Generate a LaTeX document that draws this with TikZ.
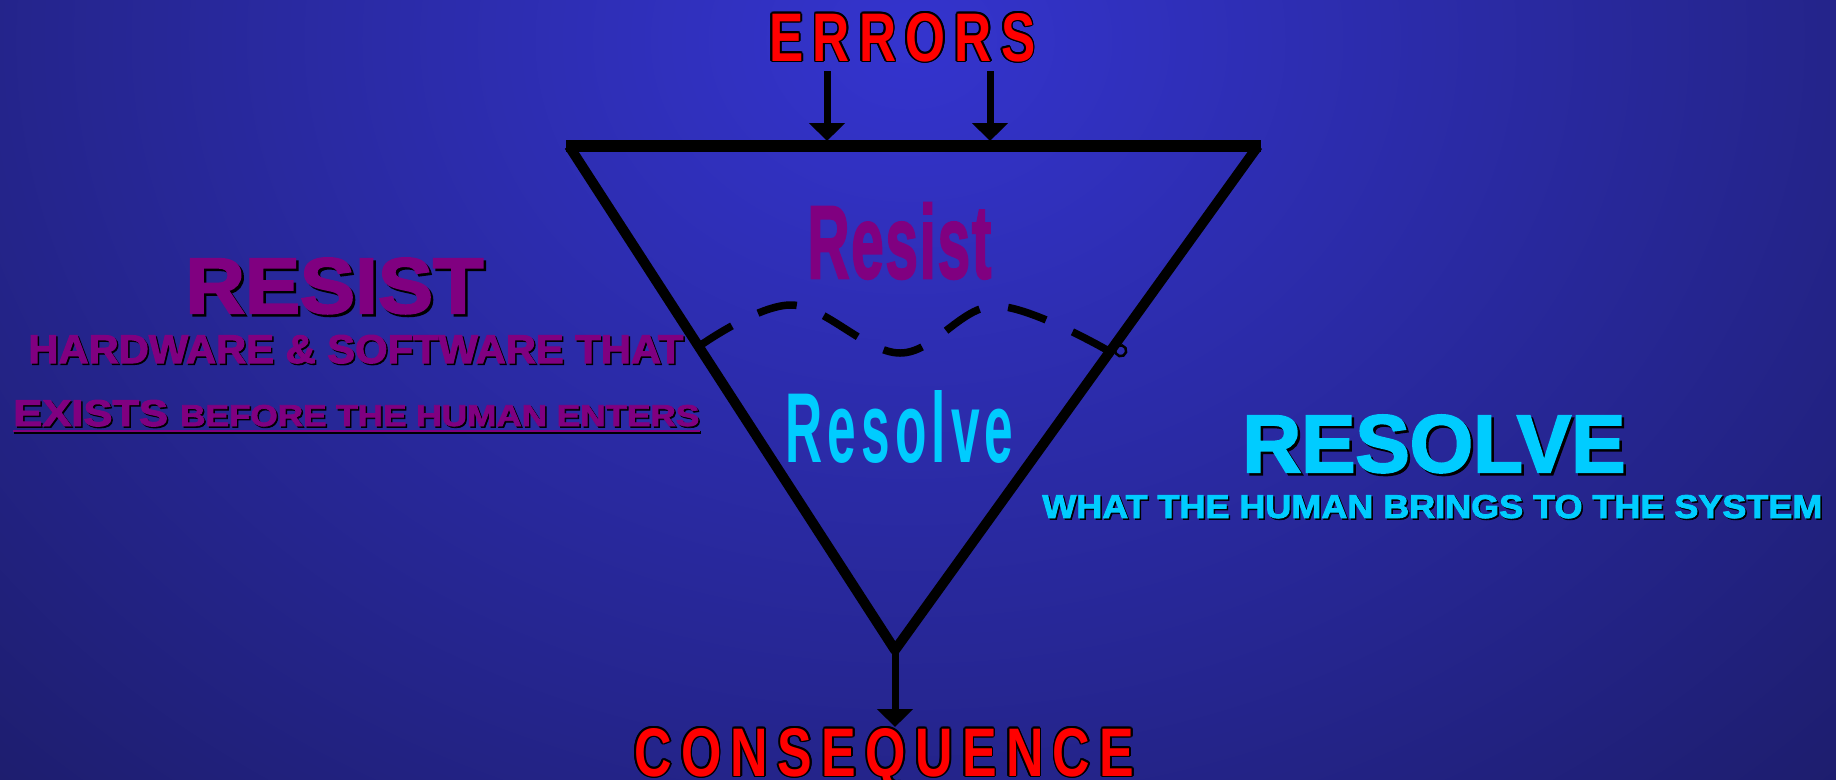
\documentclass[tikz,border=0pt]{standalone}
\usepackage{fontspec}
\setmainfont{Liberation Sans}
\newfontfamily\heavyfont{Liberation Sans}[BoldFeatures={FakeBold=2.5}]
\usetikzlibrary{arrows.meta}

\definecolor{bgdark}{RGB}{26,26,96}
\definecolor{bglight}{RGB}{52,52,206}
\definecolor{resistcol}{RGB}{128,0,128}
\definecolor{resolvecol}{RGB}{0,204,255}
\definecolor{errcol}{RGB}{255,0,0}

\newlength{\px}
\setlength{\px}{0.02cm}
\newcommand{\gap}{\kern0.18em}

% name, colour, shadow offset, position, text
\newcommand{\shadowed}[5]{%
  \node[word, text=black] at ([shift={(#3,#3)}]#4) {#5};
  \node[word, text=#2] (#1) at (#4) {#5};}

% name, position, text (red with a black rim)
\newcommand{\rimmed}[3]{%
  \foreach \a in {0,30,...,330}
    \node[word, text=black] at ([shift={(\a:1.8)}]#2) {#3};
  \node[word, text=errcol] (#1) at (#2) {#3};}

\tikzset{
  word/.style={inner sep=0pt, anchor=base west},
  side/.style={line width=0.2cm, line join=round},
  flow/.style={line width=0.14cm, -{Triangle[width=0.7cm,length=0.36cm]}},
  wave/.style={line width=0.15cm, dash pattern=on 0.8cm off 0.58cm},
}

\begin{document}
\begin{tikzpicture}[x=0.02cm, y=-0.02cm]
    \useasboundingbox (0,0) rectangle (1836,779);
    \fill[bgdark] (0,0) rectangle (1836,779);
    \begin{scope}
        \clip (0,0) rectangle (1836,779);
        \shade[inner color=bglight, outer color=bgdark] (910,40) ellipse [x radius=1500, y radius=1200];
    \end{scope}

    % triangle
    \coordinate (tl) at (569,146);
    \coordinate (tr) at (1258,146);
    \coordinate (apex) at (895,650);
    \draw[side] (tl) -- (apex) -- (tr);
    \draw[line width=0.24cm] ([xshift=-0.06cm]tl) -- ([xshift=0.06cm]tr);

    % errors in
    \rimmed{errors}{769,61}{\resizebox{266\px}{48\px}{\bfseries E\gap R\gap R\gap O\gap R\gap S}}
    \coordinate (in1) at (827,71);
    \coordinate (at1) at (827,141);
    \coordinate (in2) at (990,71);
    \coordinate (at2) at (990,141);
    \draw[flow] (in1) -- (at1);
    \draw[flow] (in2) -- (at2);

    % consequence out
    \coordinate (out) at (895,727);
    \draw[flow] (apex) -- (out);
    \rimmed{consequence}{634,776}{\resizebox{500\px}{48\px}{\bfseries C\gap O\gap N\gap S\gap E\gap Q\gap U\gap E\gap N\gap C\gap E}}

    % border between the two
    \coordinate (wl) at (698,347);
    \coordinate (wr) at (1107,350);
    \draw[wave] plot[smooth, tension=0.6] coordinates {(wl) (792,305) (900,353) (995,306) (wr)};
    \draw[line width=0.05cm] (1118,346) arc[start angle=120, end angle=-200, radius=0.11cm];

    \node[word, text=resistcol] (resistin) at (807,278) {\resizebox{184\px}{75\px}{\heavyfont\bfseries R\kern.03em e\kern.03em s\kern.03em i\kern.03em s\kern.03em t}};
    \node[word, text=resolvecol] (resolvein) at (785,462) {\resizebox{228\px}{72\px}{\bfseries R\kern.1em e\kern.1em s\kern.1em o\kern.1em l\kern.1em v\kern.1em e}};

    % left side
    \shadowed{resist}{resistcol}{2.5}{185,313}{\resizebox{298\px}{55\px}{\heavyfont\bfseries RESIST}}
    \shadowed{hardware}{resistcol}{1.5}{28,363}{\resizebox{655\px}{28\px}{\heavyfont\bfseries HARDWARE \& SOFTWARE THAT}}
    \shadowed{exists}{resistcol}{1.5}{13,426}{\resizebox{686\px}{26\px}{\heavyfont\bfseries\fontsize{26}{26}\selectfont EXISTS \fontsize{21}{21}\selectfont BEFORE THE HUMAN ENTERS}}
    \draw[line width=0.05cm] ([shift={(1,6.5)}]exists.base west) -- ([shift={(1,6.5)}]exists.base east);
    \draw[resistcol, line width=0.05cm] ([shift={(0,5)}]exists.base west) -- ([shift={(0,5)}]exists.base east);

    % right side
    \shadowed{resolve}{resolvecol}{2.5}{1242,472}{\resizebox{383\px}{57\px}{\heavyfont\bfseries RESOLVE}}
    \shadowed{brings}{resolvecol}{1.5}{1042,518}{\resizebox{780\px}{23\px}{\heavyfont\bfseries WHAT THE HUMAN BRINGS TO THE SYSTEM}}
\end{tikzpicture}
\end{document}
